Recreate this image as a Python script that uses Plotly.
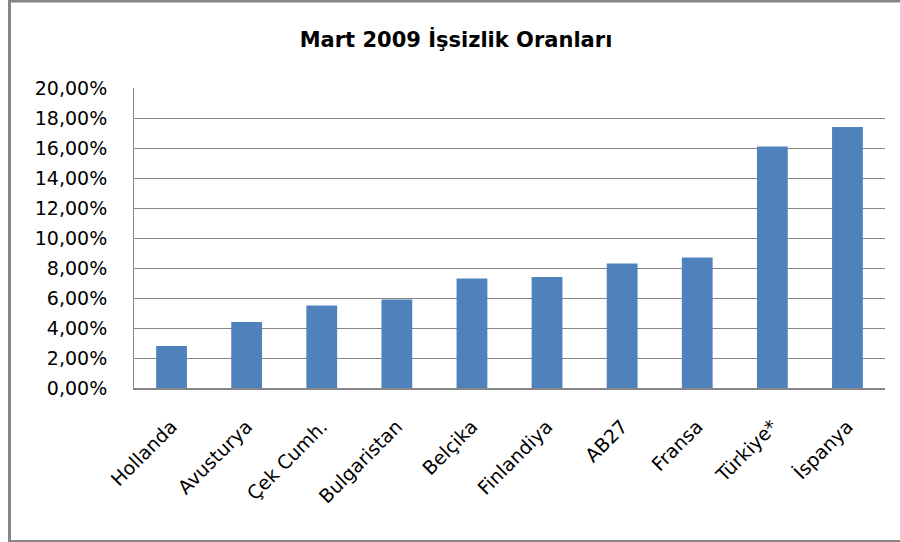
import plotly.graph_objects as go

categories = ["Hollanda", "Avusturya", "Çek Cumh.", "Bulgaristan", "Belçika",
              "Finlandiya", "AB27", "Fransa", "Türkiye*", "İspanya"]
rates = [0.028, 0.044, 0.055, 0.059, 0.073, 0.074, 0.083, 0.087, 0.161, 0.174]
title_text = "Mart 2009 İşsizlik Oranları"

W, H = 900, 542
L, R, T, B = 134, 15, 88, 154
PW, PH = W - L - R, H - T - B

def px(x):
    return (x - L) / PW

def py(y):
    return (H - B - y) / PH

GRID = "#868686"
FONT = "DejaVu Sans"

fig = go.Figure(go.Bar(
    x=categories, y=rates,
    marker=dict(color="#4F81BD", line=dict(width=0)),
    width=0.41,
))

fig.update_layout(
    width=W, height=H,
    margin=dict(l=L, r=R, t=T, b=B, autoexpand=False),
    paper_bgcolor="white", plot_bgcolor="white",
    separators=",.",
    showlegend=False,
    title=dict(text=title_text, x=456 / W, xanchor="center",
               y=1 - 40 / H, yanchor="middle",
               font=dict(family=FONT, size=21, color="black", weight="bold")),
    font=dict(family=FONT, size=19, color="black"),
    xaxis=dict(
        tickangle=-45, showgrid=False, showline=True, linecolor=GRID, linewidth=2,
        ticks="", ticklabelstandoff=18,
        tickfont=dict(family=FONT, size=19, color="black"),
    ),
    yaxis=dict(
        range=[0, 0.20], dtick=0.02, tickformat=".2%",
        showgrid=True, gridcolor=GRID, gridwidth=1,
        showline=True, linecolor=GRID, linewidth=1, zeroline=False,
        ticks="", ticklabelstandoff=22,
        tickfont=dict(family=FONT, size=19, color="black"),
    ),
    shapes=[
        dict(type="line", xref="paper", yref="paper", x0=px(9.5), x1=px(9.5), y0=py(0), y1=py(H),
             line=dict(color=GRID, width=3)),
        dict(type="line", xref="paper", yref="paper", x0=px(8), x1=px(W), y0=py(1), y1=py(1),
             line=dict(color=GRID, width=3)),
        dict(type="line", xref="paper", yref="paper", x0=px(8), x1=px(W), y0=py(541), y1=py(541),
             line=dict(color=GRID, width=2)),
    ],
)

fig.write_html("out.html", config={"displayModeBar": False},
               post_script="document.body.style.margin='0';document.body.style.overflow='hidden';")
